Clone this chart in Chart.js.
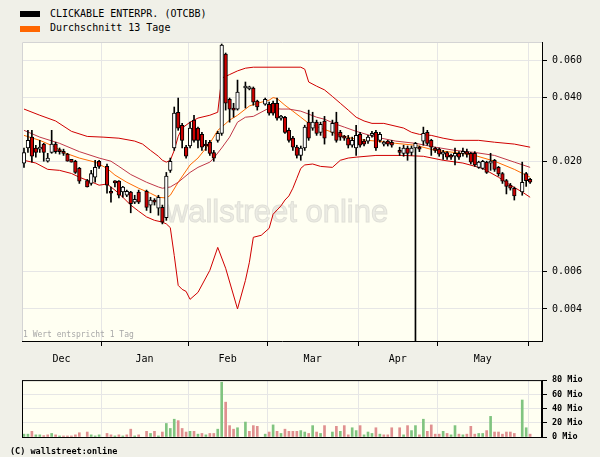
<!DOCTYPE html>
<html>
<head>
<meta charset="utf-8">
<script src="https://cdn.jsdelivr.net/npm/chart.js@4.4.1/dist/chart.umd.min.js"></script>
<style>
  html, body { margin: 0; padding: 0; background: #f0f0e8; }
  body { width: 600px; height: 457px; position: relative; overflow: hidden; font-family: 'DejaVu Sans Mono', monospace; color: #000; }
  canvas { position: absolute; left: 0; }
  #priceChart { top: 0; }
  #volChart { top: 370px; }
  .key { position: absolute; left: 20px; width: 20px; height: 6px; }
  .legtext { position: absolute; left: 50px; font-size: 10px; line-height: 12px; white-space: nowrap; }
  #copy { position: absolute; left: 10px; top: 446px; font-size: 8.5px; line-height: 10px; font-weight: bold; white-space: nowrap; }
</style>
</head>
<body>
<div class="key" style="top:11px;background:#000"></div>
<div class="legtext" style="top:8px">CLICKABLE ENTERPR. (OTCBB)</div>
<div class="key" style="top:26px;background:#ff6600"></div>
<div class="legtext" style="top:22px">Durchschnitt 13 Tage</div>
<canvas id="priceChart" width="600" height="372"></canvas>
<canvas id="volChart" width="600" height="87"></canvas>
<div id="copy">(C) wallstreet:online</div>
<script>
// one slot per weekday, 5 Dec 2005 .. 2 Jun 2006; null = no trading
const opens = [
  .0196,.0231,.0260,.0231,.0228,.0241,.0200,.0220,.0241,.0225,
  .0222,.0216,.0204,.0200,.0185,null,.0162,.0157,.0168,.0200,
  null,.0189,.0143,.0161,.0161,.0143,.0138,.0143,.0128,.0143,
  null,.0144,.0124,.0131,.0120,.0121,.0108,.0181,.0231,.0341,
  .0296,.0233,.0236,.0313,.0287,.0268,.0241,.0246,.0220,.0251,
  .0271,.0643,.0393,.0357,.0353,null,.0444,.0440,.0444,.0385,
  null,.0372,.0372,.0376,.0376,.0320,.0323,.0280,.0257,.0233,
  .0213,.0231,.0306,.0287,.0306,.0274,.0310,null,.0274,.0306,
  .0274,.0260,.0257,.0238,.0231,.0268,.0249,.0249,.0265,.0274,
  .0251,.0241,.0249,.0246,null,.0225,.0218,.0231,.0220,.0231,
  .0231,.0249,.0274,.0251,.0231,.0228,.0216,.0220,.0213,.0211,
  .0218,.0218,.0222,.0218,.0218,.0187,.0185,.0198,.0196,.0202,
  .0187,.0175,.0162,.0154,.0149,null,.0143,.0175,.0164
];
const highs = [
  .0231,.0280,.0280,.0238,.0251,.0243,.0218,.0280,.0246,.0231,
  .0228,.0218,.0204,.0202,.0187,null,.0164,.0181,.0202,.0202,
  null,.0194,.0151,.0162,.0162,.0152,.0146,.0144,.0138,.0146,
  null,.0146,.0135,.0133,.0138,.0124,.0177,.0207,.0361,.0398,
  .0302,.0238,.0306,.0330,.0290,.0274,.0251,.0251,.0225,.0277,
  .0717,.0650,.0398,.0376,.0484,null,.0474,.0453,.0449,.0389,
  null,.0398,.0381,.0385,.0398,.0330,.0326,.0287,.0262,.0238,
  .0236,.0296,.0349,.0341,.0313,.0306,.0326,null,.0313,.0341,
  .0280,.0265,.0265,.0260,.0296,.0274,.0254,.0265,.0277,.0280,
  .0274,.0249,.0251,.0251,null,.0233,.0238,.0236,.0236,.0246,
  .0236,.0290,.0280,.0254,.0233,.0231,.0225,.0222,.0216,.0231,
  .0222,.0231,.0228,.0220,.0222,.0200,.0202,.0200,.0218,.0204,
  .0189,.0177,.0164,.0157,.0151,null,.0198,.0177,.0166
];
const lows = [
  .0187,.0220,.0198,.0209,.0220,.0200,.0198,.0218,.0218,.0216,
  .0213,.0200,.0198,.0175,.0157,null,.0151,.0154,.0159,.0185,
  null,.0141,.0128,.0151,.0134,.0135,.0136,.0114,.0126,.0126,
  null,.0117,.0114,.0124,.0111,.0101,.0105,.0177,.0225,.0280,
  .0231,.0207,.0231,.0246,.0231,.0225,.0225,.0213,.0200,.0246,
  .0265,.0349,.0306,.0323,.0349,null,.0357,.0435,.0368,.0349,
  null,.0368,.0330,.0330,.0313,.0313,.0271,.0246,.0225,.0207,
  .0202,.0225,.0251,.0280,.0265,.0265,.0241,null,.0265,.0246,
  .0251,.0251,.0231,.0233,.0213,.0233,.0236,.0243,.0260,.0225,
  .0246,.0236,.0236,.0233,null,.0213,.0211,.0202,.0213,.0010,
  .0222,.0238,.0238,.0213,.0220,.0211,.0204,.0204,.0204,.0192,
  .0204,.0211,.0209,.0194,.0189,.0185,.0183,.0175,.0181,.0179,
  .0170,.0157,.0140,.0146,.0131,null,.0138,.0152,.0157
];
const closes = [
  .0220,.0251,.0211,.0220,.0233,.0220,.0207,.0241,.0222,.0222,
  .0218,.0200,.0198,.0177,.0161,null,.0151,.0175,.0187,.0189,
  null,.0154,.0141,.0158,.0138,.0151,.0144,.0126,.0132,.0128,
  null,.0121,.0131,.0128,.0135,.0103,.0170,.0200,.0338,.0287,
  .0251,.0211,.0287,.0251,.0251,.0233,.0236,.0218,.0207,.0271,
  .0709,.0376,.0353,.0349,.0425,null,.0453,.0449,.0381,.0361,
  null,.0393,.0338,.0338,.0320,.0323,.0274,.0251,.0233,.0213,
  .0231,.0290,.0257,.0306,.0271,.0299,.0257,null,.0302,.0251,
  .0260,.0257,.0238,.0251,.0265,.0238,.0241,.0260,.0271,.0231,
  .0268,.0246,.0241,.0238,null,.0220,.0231,.0218,.0231,.0243,
  .0228,.0271,.0243,.0233,.0225,.0216,.0220,.0209,.0209,.0218,
  .0209,.0220,.0216,.0198,.0192,.0198,.0200,.0177,.0198,.0183,
  .0174,.0161,.0152,.0149,.0137,null,.0159,.0162,.0159
];
// volume in Mio
const volumes = [
  4,4,8,3,3,2,3,5,3,1.5,
  1.5,1.5,1.5,3,6,null,7,3,1.5,3,
  null,5,3,1.5,3,1.5,3,11,1.5,3,
  null,8,5,8,1.5,7,19,12,25,23,
  12,7,8,8,4,5,3,5,5,11,
  77,49,16,11,13,null,21,8,16,15,
  null,4,7,17,8,5,11,8,8,8,
  9,7,5,16,7,5,16,null,7,15,
  8,16,3,13,9,16,3,7,5,13,
  4,3,3,13,null,13,3,16,9,16,
  3,25,8,17,4,4,8,5,3,16,
  4,3,4,15,4,5,5,9,29,7,
  7,4,7,7,5,null,52,13,4
];

// indicator lines, [slot, value]
const upperBand = [[0,.0353],[4,.0330],[8,.0310],[12,.0277],[16,.0262],[20,.0260],[24,.0257],[28,.0249],[30,.0241],[32,.0225],[34,.0211],[35,.0202],[36,.0198],[37,.0202],[38,.0225],[39,.0262],[40,.0287],[42,.0306],[44,.0320],[47,.0330],[49,.0341],[50,.0494],[52,.0514],[54,.0535],[56,.0551],[58,.0557],[70,.0557],[71,.0545],[72,.0474],[74,.0453],[76,.0435],[78,.0405],[80,.0376],[82,.0349],[84,.0323],[86,.0310],[88,.0302],[91,.0302],[96,.0287],[98,.0274],[100,.0268],[103,.0265],[106,.0257],[109,.0251],[115,.0251],[119,.0246],[124,.0241],[128,.0233]];
const longAvg = [[0,.0280],[4,.0260],[9,.0243],[14,.0222],[19,.0207],[22,.0200],[24,.0189],[27,.0173],[31,.0159],[34,.0151],[35,.0149],[37,.0151],[39,.0159],[42,.0177],[44,.0187],[47,.0198],[48,.0207],[50,.0231],[52,.0260],[54,.0306],[56,.0323],[58,.0326],[62,.0357],[65,.0353],[67,.0353],[70,.0345],[72,.0334],[74,.0323],[76,.0316],[79,.0299],[81,.0290],[84,.0277],[89,.0260],[94,.0249],[99,.0243],[104,.0233],[109,.0225],[114,.0220],[119,.0213],[124,.0198],[128,.0187]];
const avg13 = [[0,.0265],[4,.0251],[8,.0233],[10,.0220],[14,.0207],[18,.0198],[21,.0185],[23,.0172],[26,.0159],[29,.0149],[32,.0141],[34,.0135],[36,.0134],[37,.0138],[39,.0159],[42,.0192],[44,.0207],[47,.0243],[49,.0280],[50,.0290],[52,.0313],[54,.0330],[57,.0365],[59,.0376],[62,.0389],[63,.0400],[64,.0396],[66,.0368],[68,.0345],[70,.0323],[72,.0302],[75,.0287],[78,.0274],[80,.0265],[84,.0254],[89,.0249],[94,.0243],[99,.0238],[104,.0225],[109,.0220],[114,.0213],[119,.0200],[124,.0183],[128,.0168]];
const lowerBand = [[0,.0202],[3,.0196],[6,.0183],[9,.0181],[12,.0175],[14,.0168],[18,.0157],[19,.0154],[21,.0156],[23,.0146],[25,.0135],[27,.0124],[29,.0116],[31,.0109],[33,.0105],[35,.0103],[36,.0101],[37,.0097],[38,.00716],[39,.00517],[40,.00495],[41,.00484],[42,.00444],[44,.00479],[47,.00609],[49,.00782],[51,.00623],[54,.00400],[56,.00546],[57,.00665],[58,.00873],[60,.00892],[62,.00963],[63,.01122],[65,.0123],[66,.0131],[67,.0137],[68,.0149],[69,.0166],[70,.0185],[71,.0192],[73,.0194],[75,.0189],[78,.0187],[80,.0202],[82,.0207],[84,.0209],[89,.0213],[96,.0213],[101,.0211],[106,.0202],[111,.0196],[116,.0185],[120,.0168],[123,.0154],[126,.0143],[128,.0135]];

const monthNames = ['Dec', 'Jan', 'Feb', 'Mar', 'Apr', 'May'];
const monthEdges = [-0.5, 19.5, 41.5, 61.5, 84.5, 104.5, 127.5];
const priceTicks = [0.004, 0.006, 0.02, 0.04, 0.06];
const volTicks = [0, 20, 40, 60, 80];

Chart.defaults.font.family = "'DejaVu Sans Mono', monospace";
Chart.defaults.font.size = 10;
Chart.defaults.color = '#000';

const monthMids = monthNames.map((m, k) => (monthEdges[k] + monthEdges[k + 1]) / 2);
const edgeTicks = monthEdges.slice(1);
const isEdge = c => c.tick && edgeTicks.includes(c.tick.value);

const candles = [], wicks = [], bodyColors = [], volBars = [], volColors = [];
let prevClose = null;
opens.forEach((o, i) => {
  if (o === null) return;
  wicks.push({ x: i, y: [lows[i], highs[i]] });
  candles.push({ x: i, y: [o, closes[i]] });
  bodyColors.push(closes[i] >= o ? '#ffffff' : '#cc0000');
  volBars.push({ x: i, y: volumes[i] });
  volColors.push(prevClose === null || closes[i] >= prevClose ? '#80c480' : '#e09090');
  prevClose = closes[i];
});
const pts = arr => arr.map(p => ({ x: p[0], y: p[1] }));

const lineStyle = color => ({ type: 'line', borderColor: color, borderWidth: 1, pointRadius: 0, tension: 0, order: 2 });

const priceDecor = {
  id: 'priceDecor',
  beforeDraw(chart) {
    const { ctx, chartArea: a } = chart;
    ctx.save();
    ctx.fillStyle = '#fffff2';
    ctx.fillRect(a.left, a.top, a.right - a.left, a.bottom - a.top);
    ctx.restore();
  },
  beforeDatasetsDraw(chart) {
    const { ctx, chartArea: a } = chart;
    ctx.save();
    ctx.font = "31px 'Liberation Sans', sans-serif";
    ctx.fillStyle = '#ececE4';
    ctx.strokeStyle = '#e0e0d8';
    ctx.textAlign = 'center';
    ctx.fillText('wallstreet online', 277, 222);
    ctx.strokeText('wallstreet online', 277, 222);
    ctx.strokeStyle = '#d4d4d4';
    ctx.lineWidth = 1;
    ctx.beginPath();
    ctx.moveTo(a.left + 0.5, a.bottom);
    ctx.lineTo(a.left + 0.5, a.top + 0.5);
    ctx.lineTo(a.right, a.top + 0.5);
    ctx.stroke();
    ctx.restore();
  },
  afterDraw(chart) {
    const { ctx, chartArea: a } = chart;
    ctx.save();
    ctx.font = "8px 'DejaVu Sans Mono', monospace";
    ctx.fillStyle = '#a8a8a8';
    ctx.textBaseline = 'middle';
    ctx.fillText('1 Wert entspricht 1 Tag', a.left + 1, a.bottom - 6);
    ctx.restore();
  }
};

new Chart(document.getElementById('priceChart'), {
  type: 'bar',
  data: {
    datasets: [
      { type: 'bar', data: candles, backgroundColor: bodyColors, borderColor: '#000', borderWidth: 1,
        borderSkipped: false, barThickness: 3.6, minBarLength: 2, grouped: false, order: 0 },
      { type: 'bar', data: wicks, backgroundColor: '#000', borderWidth: 0, barThickness: 1, grouped: false, order: 1 },
      Object.assign(lineStyle('#d00000'), { data: pts(upperBand) }),
      Object.assign(lineStyle('#c03848'), { data: pts(longAvg) }),
      Object.assign(lineStyle('#ff6a00'), { data: pts(avg13) }),
      Object.assign(lineStyle('#d00000'), { data: pts(lowerBand) })
    ]
  },
  options: {
    responsive: false,
    animation: false,
    devicePixelRatio: 1,
    layout: { padding: { left: 22, top: 42, right: 0, bottom: 0 } },
    plugins: { legend: { display: false }, tooltip: { enabled: false } },
    scales: {
      x: {
        type: 'linear', min: -0.5, max: 131, offset: false,
        afterBuildTicks: s => { s.ticks = edgeTicks.concat(monthMids).sort((a, b) => a - b).map(v => ({ value: v })); },
        afterFit: s => { s.height = 31; },
        grid: {
          offset: false,
          color: c => isEdge(c) ? '#e6e6e6' : 'rgba(0,0,0,0)',
          tickColor: c => isEdge(c) ? '#000' : 'rgba(0,0,0,0)',
          tickLength: 5
        },
        border: { color: '#000' },
        ticks: {
          autoSkip: false, maxRotation: 0, padding: 7,
          callback: v => { const k = monthMids.indexOf(v); return k >= 0 ? monthNames[k] : ''; }
        }
      },
      y: {
        type: 'logarithmic', position: 'right', min: 0.00282, max: 0.0733,
        afterBuildTicks: s => { s.ticks = priceTicks.map(v => ({ value: v })); },
        afterFit: s => { s.width = 58; },
        grid: { color: '#e6e6e6', tickColor: '#000', tickLength: 5 },
        border: { color: '#000' },
        ticks: { padding: 5, callback: v => v.toFixed(3) }
      }
    }
  },
  plugins: [priceDecor]
});

const volDecor = {
  id: 'volDecor',
  beforeDraw(chart) {
    const { ctx, chartArea: a } = chart;
    ctx.save();
    ctx.fillStyle = '#fffff2';
    ctx.fillRect(a.left, a.top, a.right - a.left, a.bottom - a.top);
    ctx.restore();
  },
  afterDraw(chart) {
    const { ctx, chartArea: a } = chart;
    ctx.save();
    ctx.strokeStyle = '#000';
    ctx.lineWidth = 1;
    ctx.strokeRect(a.left + 0.5, a.top + 0.5, a.right - a.left - 1, a.bottom - a.top);
    ctx.restore();
  }
};

new Chart(document.getElementById('volChart'), {
  type: 'bar',
  data: {
    datasets: [{ data: volBars, backgroundColor: volColors, borderWidth: 0, barThickness: 2, grouped: false }]
  },
  options: {
    responsive: false,
    animation: false,
    devicePixelRatio: 1,
    layout: { padding: { left: 22, top: 7, right: 0, bottom: 0 } },
    plugins: { legend: { display: false }, tooltip: { enabled: false } },
    scales: {
      x: {
        type: 'linear', min: -0.5, max: 131, offset: false,
        afterBuildTicks: s => { s.ticks = edgeTicks.map(v => ({ value: v })); },
        afterFit: s => { s.height = 20; },
        grid: { offset: false, color: '#e6e6e6', drawTicks: false },
        border: { color: '#000' },
        ticks: { display: false }
      },
      y: {
        position: 'right', min: 0, max: 80,
        afterBuildTicks: s => { s.ticks = volTicks.map(v => ({ value: v })); },
        afterFit: s => { s.width = 58; },
        grid: { color: '#e6e6e6', tickColor: '#000', tickLength: 5 },
        border: { color: '#000' },
        ticks: { padding: 5, font: { size: 8.5, weight: 'bold' }, callback: v => v + ' Mio' }
      }
    }
  },
  plugins: [volDecor]
});
</script>
</body>
</html>
